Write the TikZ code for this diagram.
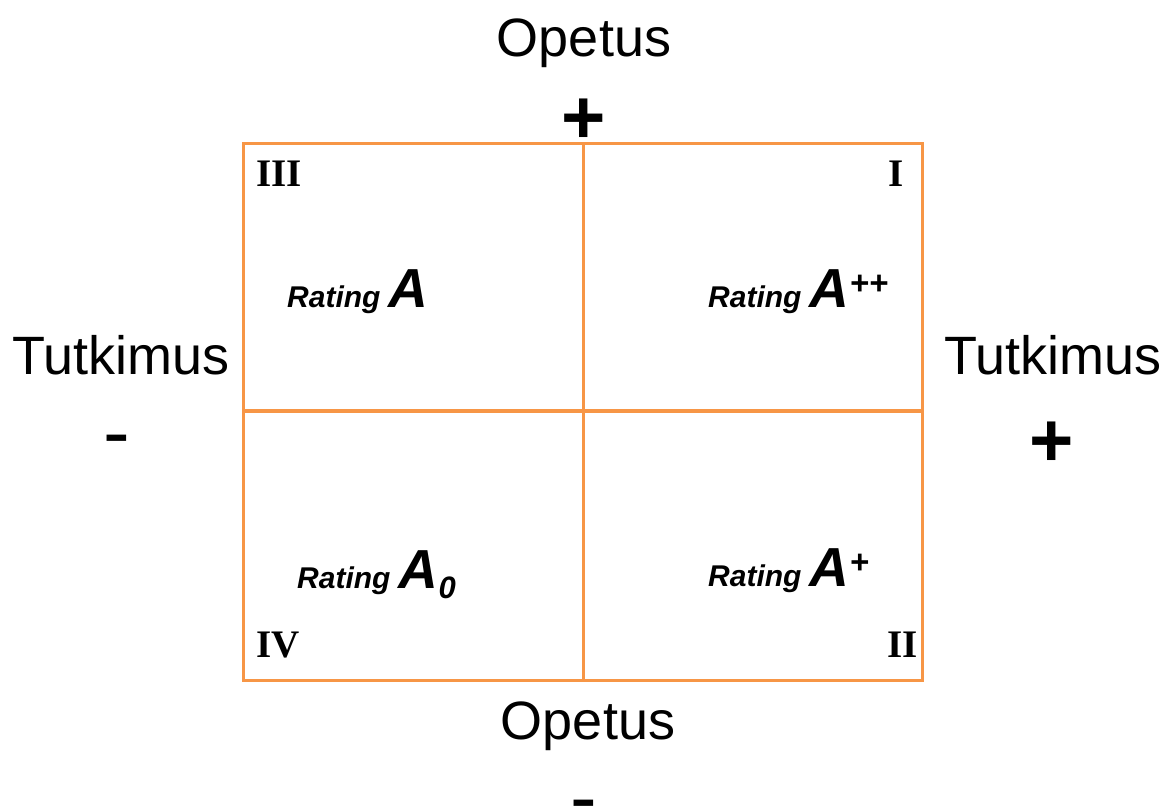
\documentclass[tikz,border=0pt]{standalone}
\usepackage{fontspec}
\setmainfont{Liberation Sans}
\newfontfamily\numfont{Liberation Serif}
\definecolor{quadorange}{RGB}{247,150,70}
\newcommand{\ratingtext}[2]{{\fontsize{30}{32}\selectfont Rating }{\fontsize{55}{60}\selectfont A}#1#2}
\newcommand{\ratup}[1]{\raisebox{13pt}{\fontsize{33}{35}\selectfont #1}}
\newcommand{\ratdown}[1]{\raisebox{-10pt}{\fontsize{31}{33}\selectfont #1}}
\tikzset{
  quadline/.style={draw=quadorange, line width=3pt},
  axislabel/.style={font=\fontsize{54}{60}\selectfont, inner sep=0pt, anchor=base},
  pluslabel/.style={font=\bfseries\fontsize{76}{90}\selectfont, inner sep=0pt, anchor=base},
  minuslabel/.style={font=\fontsize{80}{90}\selectfont, inner sep=0pt, anchor=base},
  quadnum/.style={font=\numfont\bfseries\fontsize{39}{44}\selectfont, inner sep=0pt},
  ratinglabel/.style={font=\bfseries\itshape, inner sep=0pt, anchor=base west}
}
\begin{document}
\begin{tikzpicture}[x=1pt, y=-1pt]
\useasboundingbox (0,0) rectangle (1168,810);
% the four quadrants
\draw[quadline] (243,144) rectangle (922,680);
\draw[quadline] (583,144) -- (583,680);
\draw[quadline] (243,411) -- (922,411);
% axis labels
\node[axislabel] (opetustop) at (584,57) {Opetus};
\node[pluslabel] (plustop) at (584,144) {+};
\node[axislabel] (opetusbot) at (588,739) {Opetus};
\node[minuslabel] (minusbot) at (584,824) {-};
\node[axislabel] (tutleft) at (121,375) {Tutkimus};
\node[minuslabel] (minusleft) at (117,459) {-};
\node[axislabel] (tutright) at (1053,375) {Tutkimus};
\node[pluslabel] (plusright) at (1052,466) {+};
% quadrant numbers
\node[quadnum, anchor=base west] (q3) at (256,187) {III};
\node[quadnum, anchor=base east] (q1) at (904,187) {I};
\node[quadnum, anchor=base west] (q4) at (256,657) {IV};
\node[quadnum, anchor=base east] (q2) at (918,657) {II};
% ratings
\node[ratinglabel] (ratA) at (287,308) {\ratingtext{}{}};
\node[ratinglabel] (ratApp) at (708,308) {\ratingtext{\ratup{++}}{}};
\node[ratinglabel] (ratA0) at (297,588) {\ratingtext{}{\ratdown{0}}};
\node[ratinglabel] (ratAp) at (708,586) {\ratingtext{\ratup{+}}{}};
\end{tikzpicture}
\end{document}
